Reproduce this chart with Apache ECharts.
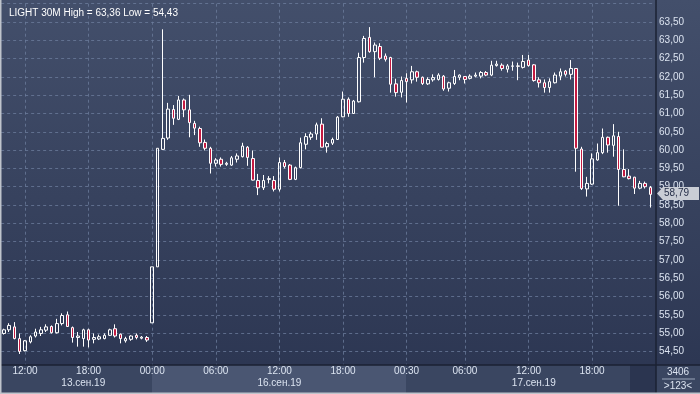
<!DOCTYPE html>
<html><head><meta charset="utf-8">
<script src="https://cdn.jsdelivr.net/npm/echarts@6/dist/echarts.min.js"></script>
<style>html,body{margin:0;padding:0;background:#2f3a55}#c{width:700px;height:394px}</style>
</head><body><div id="c"></div>
<script>
// ---- categories (30-minute bars) ----
function seg(day, h, m, count) {
  const out = [];
  for (let k = 0; k < count; k++) {
    const t = h * 60 + m + k * 30;
    out.push(day + ' ' + String(Math.floor(t / 60)).padStart(2, '0') + ':' + String(t % 60).padStart(2, '0'));
  }
  return out;
}
const categories = [].concat(seg('13.09', 10, 0, 28), seg('16.09', 0, 0, 48), seg('17.09', 0, 30, 47));

// ---- OHLC values ----
const opens = [54.99,55.09,55.17,54.85,54.52,54.76,54.92,54.99,55.08,55.18,55.01,55.26,55.50,55.15,54.88,54.85,55.09,54.83,54.84,54.85,54.94,55.12,54.97,54.79,54.83,54.94,54.86,54.88,
55.28,56.81,60.02,60.33,61.11,60.84,61.37,61.10,60.73,60.59,60.21,60.05,59.64,59.75,59.61,59.59,59.75,59.82,60.08,59.77,59.17,58.97,59.20,59.17,58.93,59.66,59.59,59.20,59.52,60.16,60.35,60.44,60.71,60.09,60.19,60.29,60.91,61.39,61.00,61.32,62.53,63.08,62.69,62.83,62.57,62.53,61.81,
61.58,61.96,61.92,62.14,61.99,61.81,61.92,61.93,62.02,61.69,61.82,61.99,62.01,61.96,62.02,62.02,62.12,62.05,62.31,62.32,62.21,62.29,62.30,62.26,62.46,62.33,61.92,61.84,61.71,61.84,62.02,62.16,62.07,62.23,60.03,58.94,59.07,59.73,59.93,60.35,60.13,60.37,59.47,59.29,59.26,58.96,59.09,58.98];
const closes = [55.09,55.21,54.85,54.50,54.79,54.90,55.03,55.09,55.17,55.01,55.26,55.48,55.18,54.88,54.92,55.09,54.81,54.88,54.90,54.94,55.09,54.92,54.85,54.85,54.92,54.88,54.89,54.81,
56.81,60.05,60.32,61.12,60.87,61.37,61.10,60.75,60.60,60.20,60.05,59.64,59.73,59.61,59.64,59.79,59.84,60.11,59.80,59.18,58.97,59.17,59.22,58.93,59.66,59.55,59.20,59.52,60.20,60.37,60.44,60.69,60.08,60.18,60.29,60.90,61.39,61.00,61.34,62.53,63.05,62.69,62.87,62.51,62.48,61.80,61.57,
61.90,61.87,62.14,61.99,61.82,61.93,61.98,62.05,61.67,61.84,62.01,62.05,61.93,62.02,62.05,62.12,62.05,62.32,62.35,62.23,62.30,62.30,62.29,62.42,62.31,61.90,61.84,61.71,61.87,62.05,62.14,62.07,62.23,60.05,58.95,59.09,59.76,59.93,60.35,60.14,60.39,59.47,59.27,59.22,58.96,59.09,59.00,58.79];
const lows = [54.96,55.03,54.83,54.43,54.50,54.72,54.88,54.92,55.03,54.99,54.99,55.21,55.17,54.74,54.63,54.63,54.61,54.72,54.81,54.83,54.92,54.88,54.72,54.74,54.79,54.83,54.83,54.76,
55.28,56.81,60.00,60.28,60.69,60.82,60.90,60.35,60.41,60.09,59.99,59.36,59.55,59.55,59.57,59.57,59.66,59.80,59.57,59.17,58.77,58.91,59.09,58.87,58.87,59.50,59.18,59.18,59.50,60.02,60.28,60.28,60.08,59.93,60.14,60.28,60.90,60.91,60.99,61.30,62.39,62.66,61.99,62.46,62.42,61.57,61.46,
61.44,61.30,61.82,61.87,61.78,61.78,61.87,61.90,61.62,61.60,61.78,61.91,61.82,61.93,61.99,61.96,62.02,62.02,62.28,62.17,62.12,62.17,61.91,62.23,62.28,61.87,61.71,61.57,61.57,61.82,61.91,62.01,61.93,59.41,58.91,58.73,59.05,59.71,59.89,59.93,59.82,58.48,59.26,59.20,58.80,58.93,58.95,58.43];
const highs = [55.12,55.27,55.30,54.99,54.81,54.94,55.12,55.17,55.24,55.21,55.39,55.54,55.59,55.18,55.03,55.12,55.12,54.99,54.96,54.99,55.12,55.24,54.99,54.90,54.94,54.99,54.92,54.92,
56.81,60.05,63.30,61.29,61.23,61.48,61.41,61.51,60.80,60.64,60.29,60.09,59.78,59.80,59.68,59.84,59.91,60.20,60.11,59.99,59.35,59.32,59.29,59.29,59.80,59.73,59.62,59.55,60.34,60.46,60.50,60.75,60.87,60.23,60.34,60.93,61.60,61.44,61.37,62.66,63.12,63.36,62.94,62.92,62.64,62.55,61.95,
62.01,62.10,62.30,62.17,62.01,61.99,62.07,62.10,62.05,61.87,62.19,62.07,62.02,62.07,62.12,62.16,62.16,62.44,62.44,62.37,62.35,62.42,62.39,62.60,62.60,62.35,61.99,61.93,61.96,62.12,62.23,62.19,62.46,62.23,60.09,59.27,59.91,60.18,60.59,60.37,60.71,60.50,60.02,59.48,59.27,59.16,59.14,59.02];

// ---- tick labels ----
const timeTickIdx  = [4, 16, 28, 40, 52, 64, 76, 87, 99, 111];
const timeTickText = ['12:00','18:00','00:00','06:00','12:00','18:00','00:30','06:00','12:00','18:00'];
const dateTickIdx  = [15, 52, 100];
const dateTickText = ['13.сен.19', '16.сен.19', '17.сен.19'];
const titleText = 'LIGHT 30M High = 63,36 Low = 54,43';
const barCountText = '3406';
const visibleText = '>123<';

const FONT = "'Liberation Sans', Arial, sans-serif";
const ohlc = opens.map((o, i) => [o, closes[i], lows[i], highs[i]]);

const chart = echarts.init(document.getElementById('c'), null, {renderer: 'canvas'});

const gridCol = 'rgba(110,126,158,0.75)';
const labelCol = '#dbe3f0';

chart.setOption({
  animation: false,
  backgroundColor: new echarts.graphic.LinearGradient(0, 0, 0, 1, [
    {offset: 0, color: '#434f6b'}, {offset: 1, color: '#2b3551'}
  ]),
  title: {
    text: titleText, left: 4, top: 3,
    textStyle: {color: '#ffffff', fontSize: 10, fontWeight: 'normal', fontFamily: FONT}
  },
  grid: {left: 1.15, right: 46.95, top: 3.7, bottom: 24.3, containLabel: false},
  xAxis: [
    {
      type: 'category', data: categories, boundaryGap: true, z: 0,
      axisLine: {show: false}, axisTick: {show: false}, axisLabel: {show: false},
      splitLine: {
        show: true, alignWithLabel: true,
        interval: (idx) => timeTickIdx.indexOf(idx) >= 0,
        lineStyle: {color: gridCol, type: [3, 3], width: 1}
      }
    },
    {
      type: 'category', data: categories, boundaryGap: true, position: 'bottom', offset: -5, z: 5,
      axisLine: {show: false}, axisTick: {show: false}, splitLine: {show: false},
      axisLabel: {
        show: true, margin: 2, color: labelCol, fontSize: 10, fontFamily: FONT,
        interval: (idx) => timeTickIdx.indexOf(idx) >= 0,
        formatter: (v, idx) => { const k = timeTickIdx.indexOf(idx); return k >= 0 ? timeTickText[k] : ''; }
      }
    },
    {
      type: 'category', data: categories, boundaryGap: true, position: 'bottom', offset: -5, z: 5,
      axisLine: {show: false}, axisTick: {show: false}, splitLine: {show: false},
      axisLabel: {
        show: true, margin: 14, color: labelCol, fontSize: 10, fontFamily: FONT,
        interval: (idx) => dateTickIdx.indexOf(idx) >= 0,
        formatter: (v, idx) => { const k = dateTickIdx.indexOf(idx); return k >= 0 ? dateTickText[k] : ''; }
      }
    }
  ],
  yAxis: {
    type: 'value', position: 'right', offset: 3, min: 54, max: 64, interval: 0.5, z: 0,
    axisLine: {show: false}, axisTick: {show: false},
    axisLabel: {
      margin: 3, color: labelCol, fontSize: 10, fontFamily: FONT,
      showMinLabel: false, showMaxLabel: false,
      formatter: (v) => v.toFixed(2).replace('.', ',')
    },
    splitLine: {show: true, lineStyle: {color: gridCol, type: [3, 3], width: 1}}
  },
  series: [{
    type: 'candlestick', xAxisIndex: 0, yAxisIndex: 0, data: ohlc, barWidth: 3, z: 2,
    itemStyle: {
      color: 'rgba(0,0,0,0)', color0: '#c41a41',
      borderColor: '#ffffff', borderColor0: '#ffffff', borderWidth: 1
    }
  }],
  graphic: [
    {type: 'rect', id: 'strip', shape: {x: 0, y: 365, width: 700, height: 29}, style: {fill: '#3a4661'}, z: 1, silent: true},
    {type: 'rect', id: 'band', shape: {x: 152, y: 365, width: 254, height: 29}, style: {fill: '#4a5672'}, z: 1, silent: true},
    {type: 'rect', id: 'scroll', shape: {x: 630, y: 365, width: 26, height: 29}, style: {fill: '#2b3550'}, z: 1, silent: true},
    {type: 'line', id: 'hdiv', shape: {x1: 0, y1: 365, x2: 700, y2: 365}, style: {stroke: '#1b2233', lineWidth: 1.5}, z: 3, silent: true},
    {type: 'line', id: 'vdiv', shape: {x1: 656, y1: 0, x2: 656, y2: 394}, style: {stroke: '#1b2233', lineWidth: 1.5}, z: 3, silent: true},
    {type: 'line', id: 'sep', shape: {x1: 662, y1: 379, x2: 695, y2: 379}, style: {stroke: '#9aa6bb', lineWidth: 1}, z: 3, silent: true},
    {type: 'text', id: 'cnt', x: 678, y: 372, style: {text: barCountText, fill: labelCol, font: '10px ' + FONT, textAlign: 'center', textVerticalAlign: 'middle'}, z: 6, silent: true},
    {type: 'text', id: 'vis', x: 678, y: 386, style: {text: visibleText, fill: labelCol, font: '10px ' + FONT, textAlign: 'center', textVerticalAlign: 'middle'}, z: 6, silent: true},
    {type: 'rect', id: 'lborder', shape: {x: 0, y: 0, width: 1.5, height: 394}, style: {fill: '#bfc4cc'}, z: 8, silent: true},
    {type: 'rect', id: 'bborder', shape: {x: 0, y: 392.5, width: 700, height: 1.5}, style: {fill: '#bfc4cc'}, z: 8, silent: true}
  ]
});

// current price tag on the right axis
const lastClose = closes[closes.length - 1];
const ty = chart.convertToPixel({yAxisIndex: 0}, lastClose) - 1;
chart.setOption({
  graphic: [
    {type: 'polygon', id: 'tag', shape: {points: [[657, ty], [663, ty - 6.5], [699, ty - 6.5], [699, ty + 6.5], [663, ty + 6.5]]},
     style: {fill: '#c9cdd5'}, z: 10, silent: true},
    {type: 'text', id: 'tagtxt', x: 664, y: ty, style: {text: lastClose.toFixed(2).replace('.', ','), fill: '#27304a', font: '10px ' + FONT, textVerticalAlign: 'middle'}, z: 11, silent: true}
  ]
});
</script></body></html>
